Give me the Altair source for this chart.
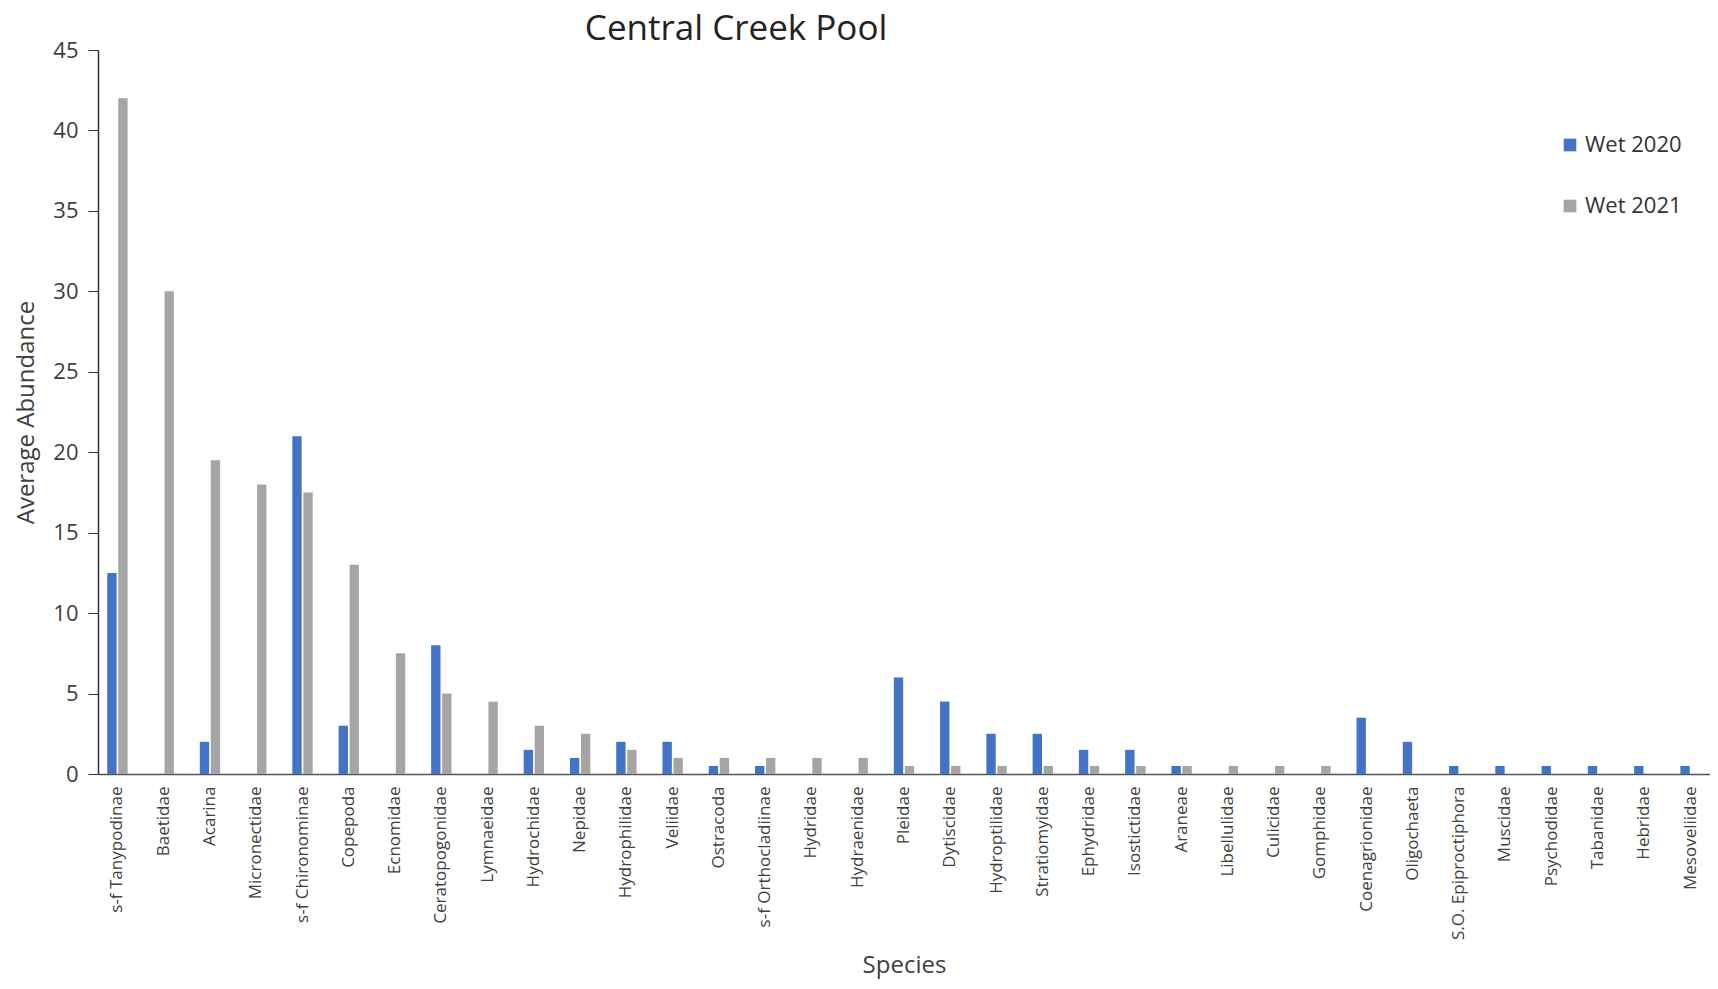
import altair as alt
import pandas as pd

species = [
    "s-f Tanypodinae", "Baetidae", "Acarina", "Micronectidae", "s-f Chironominae",
    "Copepoda", "Ecnomidae", "Ceratopogonidae", "Lymnaeidae", "Hydrochidae",
    "Nepidae", "Hydrophilidae", "Veliidae", "Ostracoda", "s-f Orthocladiinae",
    "Hydridae", "Hydraenidae", "Pleidae", "Dytiscidae", "Hydroptilidae",
    "Stratiomyidae", "Ephydridae", "Isostictidae", "Araneae", "Libellulidae",
    "Culicidae", "Gomphidae", "Coenagrionidae", "Oligochaeta", "S.O. Epiproctiphora",
    "Muscidae", "Psychodidae", "Tabanidae", "Hebridae", "Mesoveliidae",
]
wet_2020 = [12.5, 0, 2, 0, 21, 3, 0, 8, 0, 1.5, 1, 2, 2, 0.5, 0.5, 0, 0, 6, 4.5, 2.5,
            2.5, 1.5, 1.5, 0.5, 0, 0, 0, 3.5, 2, 0.5, 0.5, 0.5, 0.5, 0.5, 0.5]
wet_2021 = [42, 30, 19.5, 18, 17.5, 13, 7.5, 5, 4.5, 3, 2.5, 1.5, 1, 1, 1, 1, 1, 0.5, 0.5, 0.5,
            0.5, 0.5, 0.5, 0.5, 0.5, 0.5, 0.5, 0, 0, 0, 0, 0, 0, 0, 0]
series = ["Wet 2020", "Wet 2021"]
colors = ["#4472C4", "#A5A5A5"]

rows = []
for s, a, b in zip(species, wet_2020, wet_2021):
    rows.append({"Species": s, "Season": series[0], "Value": a})
    rows.append({"Species": s, "Season": series[1], "Value": b})
df = pd.DataFrame(rows)

FONT = "Open Sans"
TXT = "#404040"

chart = alt.Chart(df).mark_bar().encode(
    x=alt.X("Species:N", sort=species,
            scale=alt.Scale(paddingInner=0.56, paddingOuter=0.2),
            axis=alt.Axis(title="Species", labelAngle=-90, labelFontSize=17,
                          labelColor=TXT, labelFont=FONT, labelPadding=12,
                          ticks=False, domainColor="#555555", domainWidth=1.5,
                          titleFontSize=24, titleFont=FONT, titleColor=TXT,
                          titleFontWeight="normal", titleY=179)),
    xOffset=alt.XOffset("Season:N", sort=series, scale=alt.Scale(paddingInner=0.15)),
    y=alt.Y("Value:Q", scale=alt.Scale(domain=[0, 45]),
            axis=alt.Axis(title="Average Abundance", values=list(range(0, 50, 5)),
                          grid=False, tickSize=10, tickColor="#333333",
                          domainColor="#333333", domainWidth=1.5,
                          labelFontSize=22, labelColor=TXT, labelFont=FONT, labelPadding=10,
                          titleFontSize=24, titleFont=FONT, titleColor=TXT,
                          titleFontWeight="normal", titlePadding=14)),
    color=alt.Color("Season:N", sort=series,
                    scale=alt.Scale(domain=series, range=colors),
                    legend=alt.Legend(title=None, orient="none", legendX=1461, legendY=84,
                                      symbolType="square", symbolSize=160,
                                      labelFontSize=22, labelFont=FONT, labelColor="#333333",
                                      rowPadding=39, symbolStrokeWidth=0)),
).properties(
    width=1612,
    height=724,
    title=alt.TitleParams("Central Creek Pool", font=FONT, fontSize=35,
                          fontWeight="normal", color="#222222",
                          anchor="start", dx=570, dy=21, offset=13),
    autosize=alt.AutoSizeParams(type="none"),
    padding={"left": 90, "top": 42, "right": 0, "bottom": 207},
).configure_view(stroke=None)

chart.save("out.html", embed_options={"renderer": "svg", "actions": False})
